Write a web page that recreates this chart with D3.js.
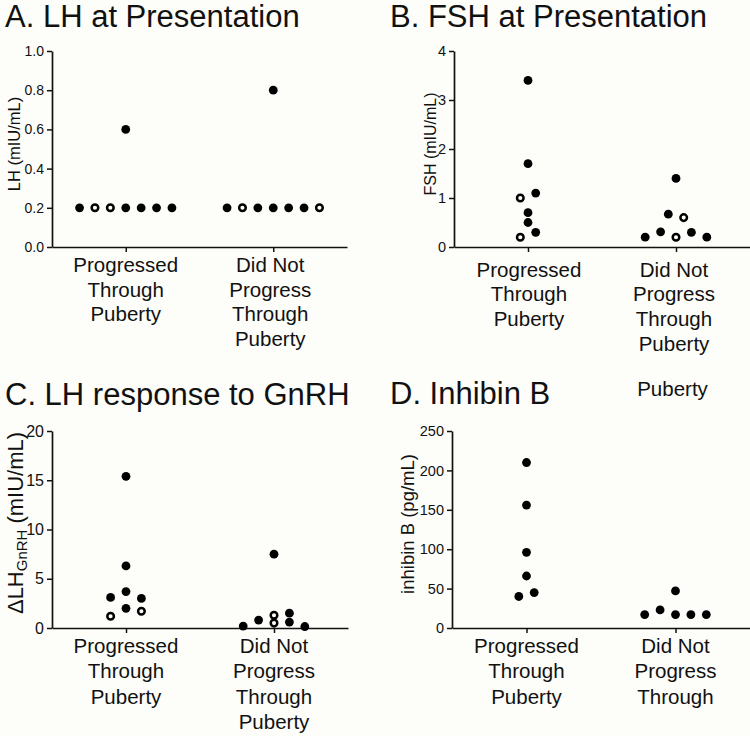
<!DOCTYPE html>
<html>
<head>
<meta charset="utf-8">
<script src="https://cdn.jsdelivr.net/npm/d3@7"></script>
<style>
  html, body { margin: 0; padding: 0; background: #fdfdf9; }
  svg { display: block; font-family: "Liberation Sans", Arial, Helvetica, sans-serif; }
</style>
</head>
<body>
<svg id="chart" width="750" height="736"></svg>
<script>
// ---------------- DATA ----------------
const categories = ["Progressed", "Did Not Progress"];
const catLabelLines = [["Progressed", "Through", "Puberty"], ["Did Not", "Progress", "Through", "Puberty"]];
const catLabelLinesD = [["Progressed", "Through", "Puberty"], ["Did Not", "Progress", "Through"]];
const strayLabel = "Puberty";

const titles = ["A. LH at Presentation", "B. FSH at Presentation", "C. LH response to GnRH", "D. Inhibin B"];

const lhTicks = [0.0, 0.2, 0.4, 0.6, 0.8, 1.0];
const fshTicks = [0, 1, 2, 3, 4];
const dlhTicks = [0, 5, 10, 15, 20];
const inhTicks = [0, 50, 100, 150, 200, 250];

// A. LH at presentation (mIU/mL)
const lhProgressed      = [0.2, 0.2, 0.2, 0.2, 0.2, 0.2, 0.2, 0.6];
const lhProgressedSlot  = [-6, -4, -2, 0, 2, 4, 6, 0];
const lhProgressedOpen  = [0, 1, 1, 0, 0, 0, 0, 0];
const lhNotProg         = [0.2, 0.2, 0.2, 0.2, 0.2, 0.2, 0.2, 0.8];
const lhNotProgSlot     = [-6, -4, -2, 0, 2, 4, 6, 0];
const lhNotProgOpen     = [0, 1, 0, 0, 0, 0, 1, 0];

// B. FSH at presentation (mIU/mL)
const fshProgressed     = [3.4, 1.7, 1.0, 1.1, 0.7, 0.5, 0.2, 0.3];
const fshProgressedSlot = [0, 0, -1, 1, 0, 0, -1, 1];
const fshProgressedOpen = [0, 0, 1, 0, 0, 0, 1, 0];
const fshNotProg        = [1.4, 0.67, 0.6, 0.31, 0.2, 0.2, 0.3, 0.2];
const fshNotProgSlot    = [0, -1, 1, -2, -4, 0, 2, 4];
const fshNotProgOpen    = [0, 0, 1, 0, 0, 1, 0, 0];

// C. delta LH after GnRH (mIU/mL)
const dlhProgressed     = [15.4, 6.3, 3.7, 3.1, 3.0, 2.0, 1.2, 1.7];
const dlhProgressedSlot = [0, 0, 0, -2, 2, 0, -2, 2];
const dlhProgressedOpen = [0, 0, 0, 0, 0, 0, 1, 1];
const dlhNotProg        = [7.5, 0.2, 0.8, 1.3, 0.5, 1.5, 0.6, 0.15];
const dlhNotProgSlot    = [0, -4, -2, 0, 0, 2, 2, 4];
const dlhNotProgOpen    = [0, 0, 0, 1, 1, 0, 0, 0];

// D. Inhibin B (pg/mL)
const inhProgressed     = [210, 156, 96, 66, 40, 45];
const inhProgressedSlot = [0, 0, 0, 0, -1, 1];
const inhNotProg        = [47, 23, 17, 17, 17, 17];
const inhNotProgSlot    = [0, -2, -4, 0, 2, 4];

// ---------------- DRAW ----------------
const svg = d3.select("#chart");
svg.append("rect").attr("width", 750).attr("height", 736).attr("fill", "#fdfdf9");

const SLOT = 7.7;

function pts(values, slots, open) {
  return values.map((v, i) => ({ v, s: slots[i], o: open ? !!open[i] : false }));
}

const panels = [
  {
    title: titles[0], tx: 5, ty: 27,
    x0: 52, x1: 347, yb: 247, yt: 51, ymax: 1.0, ticks: lhTicks, fmt: d3.format(".1f"), tickFont: 14,
    ylab: [{ t: "LH (mIU/mL)" }], ylabX: 19.5, ylabY: 144, ylabFont: 16.5,
    labels: catLabelLines, labY: 272, lineH: 24.7, labDx: [0, -3],
    groups: [pts(lhProgressed, lhProgressedSlot, lhProgressedOpen), pts(lhNotProg, lhNotProgSlot, lhNotProgOpen)]
  },
  {
    title: titles[1], tx: 390, ty: 27,
    x0: 454, x1: 750, yb: 247, yt: 51, ymax: 4, ticks: fshTicks, fmt: d3.format("d"), tickFont: 14.5,
    ylab: [{ t: "FSH (mIU/mL)" }], ylabX: 436, ylabY: 144, ylabFont: 16,
    labels: catLabelLines, labY: 276.5, lineH: 24.7, labDx: [1, -2],
    groups: [pts(fshProgressed, fshProgressedSlot, fshProgressedOpen), pts(fshNotProg, fshNotProgSlot, fshNotProgOpen)]
  },
  {
    title: titles[2], tx: 5, ty: 405,
    x0: 52, x1: 348, yb: 628, yt: 431, ymax: 20, ticks: dlhTicks, fmt: d3.format("d"), tickFont: 16,
    ylab: [{ t: "\u0394LH" }, { t: "GnRH", sub: true }, { t: " (mIU/mL)" }], ylabX: 23, ylabY: 523, ylabFont: 22,
    labels: catLabelLines, labY: 653, lineH: 25.3, labDx: [0, 0],
    groups: [pts(dlhProgressed, dlhProgressedSlot, dlhProgressedOpen), pts(dlhNotProg, dlhNotProgSlot, dlhNotProgOpen)]
  },
  {
    title: titles[3], tx: 390, ty: 404,
    x0: 452, x1: 750, yb: 628, yt: 431, ymax: 250, ticks: inhTicks, fmt: d3.format("d"), tickFont: 14.5,
    ylab: [{ t: "inhibin B (pg/mL)" }], ylabX: 414, ylabY: 524, ylabFont: 18.5,
    labels: catLabelLinesD, labY: 653, lineH: 25.3, labDx: [0, 0],
    groups: [pts(inhProgressed, inhProgressedSlot, null), pts(inhNotProg, inhNotProgSlot, null)]
  }
];

panels.forEach(p => {
  const g = svg.append("g");
  const x = d3.scalePoint().domain(categories).range([p.x0, p.x1]).padding(0.5);
  const y = d3.scaleLinear().domain([0, p.ymax]).range([p.yb, p.yt]);

  // title
  g.append("text").attr("x", p.tx).attr("y", p.ty)
    .attr("font-size", 31).attr("fill", "#111").text(p.title);

  // y axis
  const ya = g.append("g").attr("transform", `translate(${p.x0},0)`)
    .call(d3.axisLeft(y).tickValues(p.ticks).tickFormat(p.fmt).tickSize(5).tickSizeOuter(0).tickPadding(3));
  ya.select(".domain").attr("stroke", "#111").attr("stroke-width", 1.7);
  ya.selectAll(".tick line").attr("stroke", "#111").attr("stroke-width", 1.5);
  ya.selectAll(".tick text").attr("font-size", p.tickFont).attr("fill", "#111")
    .attr("font-family", '"Liberation Sans", Arial, sans-serif');

  // x axis
  const xa = g.append("g").attr("transform", `translate(0,${p.yb})`)
    .call(d3.axisBottom(x).tickSize(5).tickSizeOuter(0).tickFormat(""));
  xa.select(".domain").attr("stroke", "#111").attr("stroke-width", 1.7);
  xa.selectAll(".tick line").attr("stroke", "#111").attr("stroke-width", 1.5);

  // category labels
  categories.forEach((c, ci) => {
    const lines = p.labels[ci];
    const t = g.append("text").attr("text-anchor", "middle").attr("font-size", 20.5).attr("fill", "#111");
    lines.forEach((ln, li) => {
      t.append("tspan").attr("x", x(c) + p.labDx[ci]).attr("y", p.labY + li * p.lineH).text(ln);
    });
  });

  // y axis title
  const yl = g.append("text")
    .attr("transform", `translate(${p.ylabX},${p.ylabY}) rotate(-90)`)
    .attr("text-anchor", "middle").attr("font-size", p.ylabFont).attr("fill", "#111");
  p.ylab.forEach(part => {
    const ts = yl.append("tspan").text(part.t);
    if (part.sub) ts.attr("font-size", p.ylabFont * 0.68).attr("dy", 4);
    else if (yl.selectAll("tspan").size() > 1) ts.attr("dy", -4);
  });

  // points
  p.groups.forEach((grp, gi) => {
    const cx = x(categories[gi]);
    g.selectAll(null).data(grp).enter().append("circle")
      .attr("cx", d => cx + d.s * SLOT)
      .attr("cy", d => y(d.v))
      .attr("r", d => d.o ? 3.3 : 4.4)
      .attr("fill", d => d.o ? "#fdfdf9" : "#000")
      .attr("stroke", d => d.o ? "#000" : "none")
      .attr("stroke-width", d => d.o ? 2.5 : 0);
  });
});

// displaced label line from panel D's second category
const xD = d3.scalePoint().domain(categories).range([452, 750]).padding(0.5);
svg.append("text").attr("x", xD(categories[1]) - 3).attr("y", 395.5)
  .attr("text-anchor", "middle").attr("font-size", 20.5).attr("fill", "#111").text(strayLabel);
</script>
</body>
</html>
